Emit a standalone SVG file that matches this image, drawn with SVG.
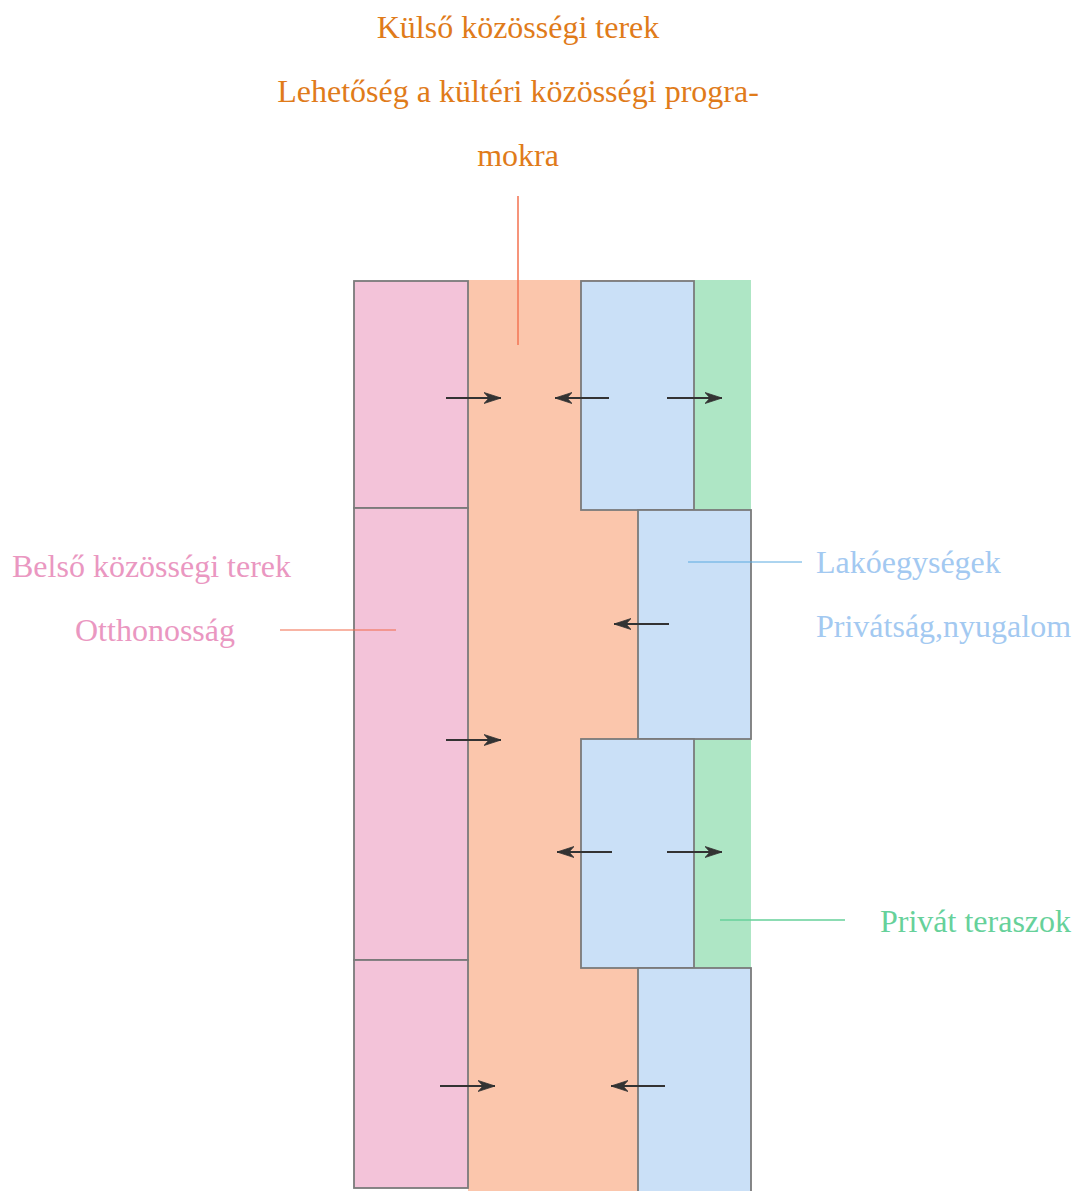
<svg xmlns="http://www.w3.org/2000/svg" width="1077" height="1191" viewBox="0 0 1077 1191">
<style>
.lbl{font-family:"Liberation Serif","Times New Roman",serif;font-size:32px}
.box{stroke:#7A7A7A;stroke-width:1.8}
.arr{stroke:#333;stroke-width:2.2;fill:none;marker-end:url(#ah)}
</style>
<defs>
<marker id="ah" markerUnits="userSpaceOnUse" markerWidth="20" markerHeight="14" refX="17" refY="7" orient="auto">
<path d="M0,1.5 L17,7 L0,12.5 L5,7 Z" fill="#333" stroke="#333" stroke-width="0.8" stroke-linejoin="miter"/>
</marker>
</defs>
<rect width="1077" height="1191" fill="#fff"/>
<g id="outer-space">
<rect x="468" y="280" width="170" height="911" fill="#FBC6AC"/>
</g>
<g id="terraces">
<rect x="694" y="280" width="57" height="230" fill="#AEE6C5"/>
<rect x="694" y="739" width="57" height="229" fill="#AEE6C5"/>
</g>
<g id="inner-spaces">
<rect class="box" x="354" y="281" width="114" height="227" fill="#F3C3D9"/>
<rect class="box" x="354" y="508" width="114" height="452" fill="#F3C3D9"/>
<rect class="box" x="354" y="960" width="114" height="228" fill="#F3C3D9"/>
</g>
<g id="units">
<rect class="box" x="581" y="281" width="113" height="229" fill="#CAE0F7"/>
<rect class="box" x="638" y="510" width="113" height="229" fill="#CAE0F7"/>
<rect class="box" x="581" y="739" width="113" height="229" fill="#CAE0F7"/>
<rect class="box" x="638" y="968" width="113" height="230" fill="#CAE0F7"/>
</g>
<g id="connectors">
<line class="arr" x1="446" y1="398" x2="501" y2="398"/>
<line class="arr" x1="609" y1="398" x2="555" y2="398"/>
<line class="arr" x1="667" y1="398" x2="722" y2="398"/>
<line class="arr" x1="669" y1="624" x2="614" y2="624"/>
<line class="arr" x1="446" y1="740" x2="501" y2="740"/>
<line class="arr" x1="612" y1="852" x2="557" y2="852"/>
<line class="arr" x1="667" y1="852" x2="722" y2="852"/>
<line class="arr" x1="440" y1="1086" x2="495" y2="1086"/>
<line class="arr" x1="665" y1="1086" x2="611" y2="1086"/>
<line x1="518" y1="196" x2="518" y2="345" stroke="#F47A5A" stroke-width="1.6"/>
<line x1="280" y1="630" x2="396" y2="630" stroke="#F26A4A" stroke-width="1.2"/>
<line x1="688" y1="562" x2="802" y2="562" stroke="#5AAAE0" stroke-width="1"/>
<line x1="720" y1="920" x2="845" y2="920" stroke="#66D19A" stroke-width="1.6"/>
</g>
<g id="label-outer">
<text class="lbl" x="518" y="38" text-anchor="middle" fill="#E07B1A">Külső közösségi terek</text>
<text class="lbl" x="518" y="102" text-anchor="middle" fill="#E07B1A">Lehetőség a kültéri közösségi progra-</text>
<text class="lbl" x="518" y="166" text-anchor="middle" fill="#E07B1A">mokra</text>
</g>
<g id="label-inner">
<text class="lbl" x="12" y="577" fill="#EA97C1">Belső közösségi terek</text>
<text class="lbl" x="75" y="641" fill="#EA97C1">Otthonosság</text>
</g>
<g id="label-units">
<text class="lbl" x="816" y="573" fill="#A3C9F1">Lakóegységek</text>
<text class="lbl" x="816" y="637" fill="#A3C9F1">Privátság,nyugalom</text>
</g>
<g id="label-terraces">
<text class="lbl" x="880" y="932" fill="#66D19A">Privát teraszok</text>
</g>
</svg>
